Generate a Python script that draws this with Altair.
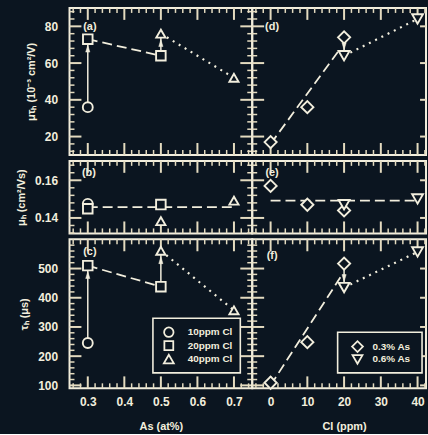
import altair as alt
import pandas as pd

BG = "#0b1520"
FG = "#f2eedd"
TICK = "#e4dbc0"
FONT = "Liberation Sans"

# ---------------- data ----------------
as_series = ["10ppm Cl", "20ppm Cl", "40ppm Cl"]
cl_series = ["0.3% As", "0.6% As"]

as_10ppm = [0.3]
as_20ppm = [0.3, 0.5]
as_40ppm = [0.5, 0.7]
mutau_10ppm = [36]
mutau_20ppm = [73, 64]
mutau_40ppm = [76, 52]
mu_10ppm = [0.1475]
mu_20ppm = [0.1449, 0.1471]
mu_40ppm = [0.1383, 0.1492]
tau_10ppm = [245]
tau_20ppm = [510, 438]
tau_40ppm = [561, 357]
as_level = [0.3, 0.7]
mu_as_level = [0.1457, 0.1457]

cl_03as = [0, 10, 20]
cl_06as = [20, 40]
mutau_03as = [17, 36, 74]
mutau_06as = [64, 84]
mu_03as = [0.1570, 0.1470, 0.1440]
mu_06as = [0.1470, 0.1501]
tau_03as = [109, 248, 517]
tau_06as = [435, 557]
cl_level = [0, 40]
mu_cl_level = [0.1492, 0.1492]
cl_trend = [0, 19]
mutau_trend = [16, 68]
tau_trend = [100, 470]

# tick values
as_major = [0.3, 0.4, 0.5, 0.6, 0.7]
as_minor = [round(0.26 + 0.02 * i, 2) for i in range(25) if i % 5 != 2]
cl_major = [0, 10, 20, 30, 40]
cl_minor = [v for v in range(-4, 43, 2) if v % 10 != 0]
mutau_major = [20, 40, 60, 80]
mutau_minor = [v for v in range(12, 89, 4) if v % 20 != 0]
mu_major = [0.14, 0.16]
mu_minor = [round(0.132 + 0.004 * i, 3) for i in range(10) if i not in (2, 7)]
tau_major = [100, 200, 300, 400, 500]
tau_minor = [v for v in range(120, 600, 20) if v % 100 != 0]

AS_DOM = [0.25, 0.75]
CL_DOM = [-5, 42.3]
MUTAU_DOM = [10, 90]
MU_DOM = [0.1318, 0.1703]
TAU_DOM = [90, 600]
WL, WR = 184, 175
H1, H2, H3 = 148, 73, 150

UP = "M0,-1L0.6,1L-0.6,1Z"
DOWN = "M0,1L0.6,-1L-0.6,-1Z"

AS_SHAPES = ["circle", "square", "triangle-up"]
AS_SIZES = [100, 85, 120]
CL_SHAPES = ["diamond", "triangle-down"]
CL_SIZES = [150, 120]


def pts_df(xs_list, ys_list, names):
    rows = []
    for xs_, ys_, n in zip(xs_list, ys_list, names):
        for a, b in zip(xs_, ys_):
            rows.append({"x": a, "y": b, "s": n})
    return pd.DataFrame(rows)


def line_df(xs_, ys_):
    return pd.DataFrame({"x": xs_, "y": ys_})


def yaxis(title, vals, fmt):
    return alt.Axis(values=vals, title=title, format=fmt, ticks=False, domain=False,
                    grid=False, labelFont=FONT, labelFontSize=12, labelFontWeight="bold",
                    labelColor=FG, labelPadding=12, titleFont=FONT, titleFontSize=11,
                    titleFontWeight="bold", titleColor=FG, titlePadding=8)


def xaxis(title, vals, fmt, title_x=None):
    kw = {}
    if title_x is not None:
        kw["titleX"] = title_x
    return alt.Axis(values=vals, title=title, format=fmt, ticks=False, domain=False,
                    grid=False, labelFlush=False, labelFont=FONT, labelFontSize=12,
                    labelFontWeight="bold", labelColor=FG, labelPadding=8,
                    titleFont=FONT, titleFontSize=11, titleFontWeight="bold",
                    titleColor=FG, titlePadding=13, **kw)


def legend_layers(names, shapes, sizes, box, sym_x, lab_x, rows_y):
    out = [alt.Chart(pd.DataFrame({"k": [0]})).mark_rect(
        fill=BG, stroke=FG, strokeWidth=1.6).encode(
        x=alt.value(box[0]), x2=alt.value(box[1]), y=alt.value(box[2]), y2=alt.value(box[3]))]
    for n, sh, sz, ry in zip(names, shapes, sizes, rows_y):
        d = pd.DataFrame({"t": [n]})
        out.append(alt.Chart(d).mark_point(shape=sh, size=sz, filled=False, fill=BG, stroke=FG,
                                           strokeWidth=1.8, opacity=1).encode(
            x=alt.value(sym_x), y=alt.value(ry)))
        out.append(alt.Chart(d).mark_text(font=FONT, fontSize=10, fontWeight="bold", color=FG,
                                          align="left", baseline="middle").encode(
            text="t:N", x=alt.value(lab_x), y=alt.value(ry)))
    return out


def panel(xdom, ydom, W, H, xmaj, xmin, ymaj, ymin, pts, series, shapes, sizes,
          dashed, dotted, arrows, arrow_up, label, lx, ly, yax, xax, legend=None,
          right_major=12, right_minor=5):
    xs = alt.Scale(domain=xdom, nice=False, zero=False)
    ys = alt.Scale(domain=ydom, nice=False, zero=False)
    layers = []

    def X(f):
        return alt.X(f, scale=xs, axis=xax)

    def Y(f):
        return alt.Y(f, scale=ys, axis=yax)

    def xt(vals, L, top, sw):
        yy = dict(y=alt.value(0), y2=alt.value(L)) if top else dict(y=alt.value(H), y2=alt.value(H - L))
        return alt.Chart(pd.DataFrame({"x": vals})).mark_rule(color=TICK, strokeWidth=sw).encode(
            x=X("x:Q"), **yy)

    def yt(vals, L, right, sw):
        xx = dict(x=alt.value(W), x2=alt.value(W - L)) if right else dict(x=alt.value(0), x2=alt.value(L))
        return alt.Chart(pd.DataFrame({"y": vals})).mark_rule(color=TICK, strokeWidth=sw).encode(
            y=Y("y:Q"), **xx)

    for top in (False, True):
        layers.append(xt(xmaj, 12, top, 2))
        layers.append(xt(xmin, 5, top, 1.5))
    layers.append(yt(ymaj, 12, False, 2))
    layers.append(yt(ymin, 5, False, 1.5))
    if right_major:
        layers.append(yt(ymaj, right_major, True, 2))
    if right_minor:
        layers.append(yt(ymin, right_minor, True, 1.5))

    if dashed is not None:
        layers.append(alt.Chart(dashed).mark_line(color=FG, strokeWidth=1.8, strokeDash=[10, 5]).encode(
            x=X("x:Q"), y=Y("y:Q")))
    if dotted is not None:
        layers.append(alt.Chart(dotted).mark_line(color=FG, strokeWidth=2.2, strokeDash=[2, 5]).encode(
            x=X("x:Q"), y=Y("y:Q")))
    if arrows is not None:
        layers.append(alt.Chart(arrows).mark_rule(color=FG, strokeWidth=1.5).encode(
            x=X("x:Q"), y=Y("y0:Q"), y2="y1:Q"))

    layers.append(alt.Chart(pts).mark_point(filled=False, fill=BG, stroke=FG, strokeWidth=1.9,
                                            opacity=1, fillOpacity=1, strokeOpacity=1).encode(
        x=X("x:Q"),
        y=Y("y:Q"),
        shape=alt.Shape("s:N", scale=alt.Scale(domain=series, range=shapes), legend=None),
        size=alt.Size("s:N", scale=alt.Scale(domain=series, range=sizes), legend=None),
    ))

    if arrows is not None:
        layers.append(alt.Chart(arrows).mark_point(shape=UP if arrow_up else DOWN, filled=True,
                                                   fill=FG, stroke=FG, strokeWidth=0.5, size=49,
                                                   opacity=1, yOffset=9.5 if arrow_up else -9.5).encode(
            x=X("x:Q"), y=Y("y1:Q")))

    layers.append(alt.Chart(pd.DataFrame({"t": [label]})).mark_text(
        font=FONT, fontSize=11, fontWeight="bold", color=FG).encode(
        text="t:N", x=alt.value(lx), y=alt.value(ly)))

    if legend is not None:
        layers.extend(legend)

    return alt.layer(*layers).properties(width=W, height=H)


arrows_as_mutau = pd.DataFrame({"x": [as_10ppm[0], as_20ppm[1]],
                                "y0": [mutau_10ppm[0], mutau_20ppm[1]],
                                "y1": [mutau_20ppm[0], mutau_40ppm[0]]})
arrows_as_tau = pd.DataFrame({"x": [as_10ppm[0], as_20ppm[1]],
                              "y0": [tau_10ppm[0], tau_20ppm[1]],
                              "y1": [tau_20ppm[0], tau_40ppm[0]]})
arrows_cl_mutau = pd.DataFrame({"x": [cl_03as[2]], "y0": [mutau_03as[2]], "y1": [mutau_06as[0]]})
arrows_cl_tau = pd.DataFrame({"x": [cl_03as[2]], "y0": [tau_03as[2]], "y1": [tau_06as[0]]})

pa = panel(AS_DOM, MUTAU_DOM, WL, H1, as_major, as_minor, mutau_major, mutau_minor,
           pts_df([as_10ppm, as_20ppm, as_40ppm], [mutau_10ppm, mutau_20ppm, mutau_40ppm], as_series),
           as_series, AS_SHAPES, AS_SIZES,
           line_df(as_20ppm, mutau_20ppm), line_df(as_40ppm, mutau_40ppm), arrows_as_mutau, True,
           "(a)", 20.5, 19.5, yaxis("μτₕ (10⁻³ cm²/V)", mutau_major, "d"), None)

pd_ = panel(CL_DOM, MUTAU_DOM, WR, H1, cl_major, cl_minor, mutau_major, mutau_minor,
            pts_df([cl_03as, cl_06as], [mutau_03as, mutau_06as], cl_series),
            cl_series, CL_SHAPES, CL_SIZES,
            line_df(cl_trend, mutau_trend), line_df(cl_06as, mutau_06as), arrows_cl_mutau, False,
            "(d)", 20, 19.5, None, None, right_major=6, right_minor=0)

pb = panel(AS_DOM, MU_DOM, WL, H2, as_major, as_minor, mu_major, mu_minor,
           pts_df([as_10ppm, as_20ppm, as_40ppm], [mu_10ppm, mu_20ppm, mu_40ppm], as_series),
           as_series, AS_SHAPES, AS_SIZES,
           line_df(as_level, mu_as_level), None, None, True,
           "(b)", 19.5, 12.5, yaxis("μₕ (cm²/Vs)", mu_major, ".2f"), None)

pe = panel(CL_DOM, MU_DOM, WR, H2, cl_major, cl_minor, mu_major, mu_minor,
           pts_df([cl_03as, cl_06as], [mu_03as, mu_06as], cl_series),
           cl_series, CL_SHAPES, CL_SIZES,
           line_df(cl_level, mu_cl_level), None, None, False,
           "(e)", 20, 12.5, None, None, right_major=6, right_minor=0)

pc = panel(AS_DOM, TAU_DOM, WL, H3, as_major, as_minor, tau_major, tau_minor,
           pts_df([as_10ppm, as_20ppm, as_40ppm], [tau_10ppm, tau_20ppm, tau_40ppm], as_series),
           as_series, AS_SHAPES, AS_SIZES,
           line_df(as_20ppm, tau_20ppm), line_df(as_40ppm, tau_40ppm), arrows_as_tau, True,
           "(c)", 20.5, 12.5, yaxis("τₕ (μs)", tau_major, "d"),
           xaxis("As (at%)", as_major, ".1f"),
           legend=legend_layers(as_series, AS_SHAPES, [90, 80, 100],
                                (84, 172, 79.5, 134.5), 100, 119, [93.5, 107, 120.5]))

pf = panel(CL_DOM, TAU_DOM, WR, H3, cl_major, cl_minor, tau_major, tau_minor,
           pts_df([cl_03as, cl_06as], [tau_03as, tau_06as], cl_series),
           cl_series, CL_SHAPES, CL_SIZES,
           line_df(cl_trend, tau_trend), line_df(cl_06as, tau_06as), arrows_cl_tau, False,
           "(f)", 20, 16.5, None, xaxis("Cl (ppm)", cl_major, "d", title_x=92.5),
           legend=legend_layers(cl_series, CL_SHAPES, [120, 100],
                                (86, 171, 93.5, 134.5), 106, 121, [108, 121]),
           right_major=6, right_minor=0)

chart = alt.concat(pa, pd_, pb, pe, pc, pf, columns=2,
                   spacing={"row": 6, "column": 0}, bounds="flush").resolve_scale(
    shape="independent", size="independent").properties(
    background=BG, padding={"left": 14, "top": 4.5, "right": 0, "bottom": 0}).configure_view(
    stroke=FG, strokeWidth=2)

chart.save("out.html", embed_options={"renderer": "svg", "actions": False})
